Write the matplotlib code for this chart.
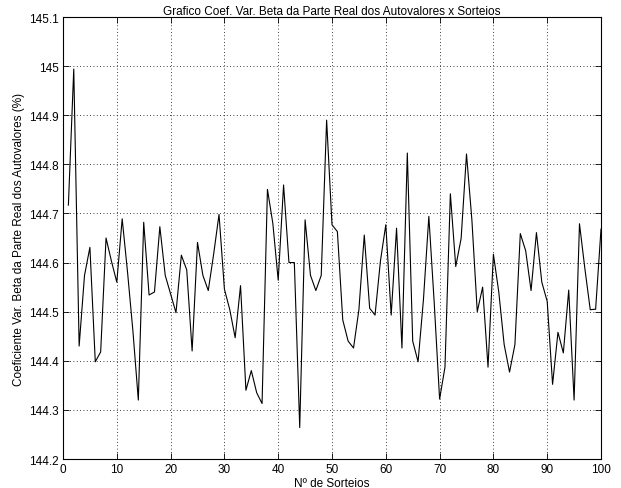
import numpy as np
import matplotlib
matplotlib.use("Agg")
import matplotlib.pyplot as plt
from matplotlib.ticker import FuncFormatter

plt.rcParams['font.family'] = ['Liberation Sans', 'DejaVu Sans']

sorteios = list(range(1, 101))
coef_var = [
    144.717, 144.994, 144.430, 144.574, 144.631, 144.398, 144.418, 144.650, 144.603, 144.560,
    144.689, 144.580, 144.460, 144.320, 144.682, 144.534, 144.540, 144.673, 144.574, 144.536,
    144.498, 144.615, 144.585, 144.420, 144.641, 144.574, 144.543, 144.617, 144.698, 144.546,
    144.504, 144.447, 144.553, 144.340, 144.380, 144.335, 144.313, 144.749, 144.680, 144.564,
    144.758, 144.600, 144.600, 144.264, 144.687, 144.574, 144.543, 144.574, 144.890, 144.677,
    144.663, 144.483, 144.440, 144.426, 144.504, 144.656, 144.507, 144.493, 144.603, 144.677,
    144.493, 144.670, 144.426, 144.823, 144.440, 144.398, 144.525, 144.694, 144.518, 144.322,
    144.387, 144.740, 144.592, 144.649, 144.821, 144.687, 144.500, 144.550, 144.387, 144.617,
    144.540, 144.433, 144.377, 144.433, 144.659, 144.624, 144.543, 144.661, 144.560, 144.521,
    144.352, 144.458, 144.416, 144.544, 144.320, 144.679, 144.588, 144.504, 144.505, 144.668,
]

fig = plt.figure(figsize=(6.21, 4.89), dpi=100)
ax = fig.add_axes([63/621, 1 - 460/489, 538/621, 442/489])

ax.plot(sorteios, coef_var, color="black", lw=0.8)

ax.set_xlim(0, 100)
ax.set_ylim(144.2, 145.1)
ax.set_xticks(np.arange(0, 101, 10))
ax.set_yticks(np.round(np.arange(144.2, 145.11, 0.1), 1))
ax.yaxis.set_major_formatter(FuncFormatter(lambda v, p: '%g' % round(v, 1)))
ax.tick_params(direction='in', length=4, labelsize=8.5, width=0.6, top=True, right=True, pad=3)
ax.grid(True, color='black', linestyle=(0, (1, 3)), linewidth=0.6)
for s in ax.spines.values():
    s.set_linewidth(0.8)

ax.set_title("Grafico Coef. Var. Beta da Parte Real dos Autovalores x Sorteios", fontsize=8.5, pad=2)
ax.set_xlabel("Nº de Sorteios", fontsize=8.5, labelpad=1)
ax.set_ylabel("Coeficiente Var. Beta da Parte Real dos Autovalores (%)", fontsize=8.5, labelpad=3)

fig.savefig("out.png", dpi=100)
